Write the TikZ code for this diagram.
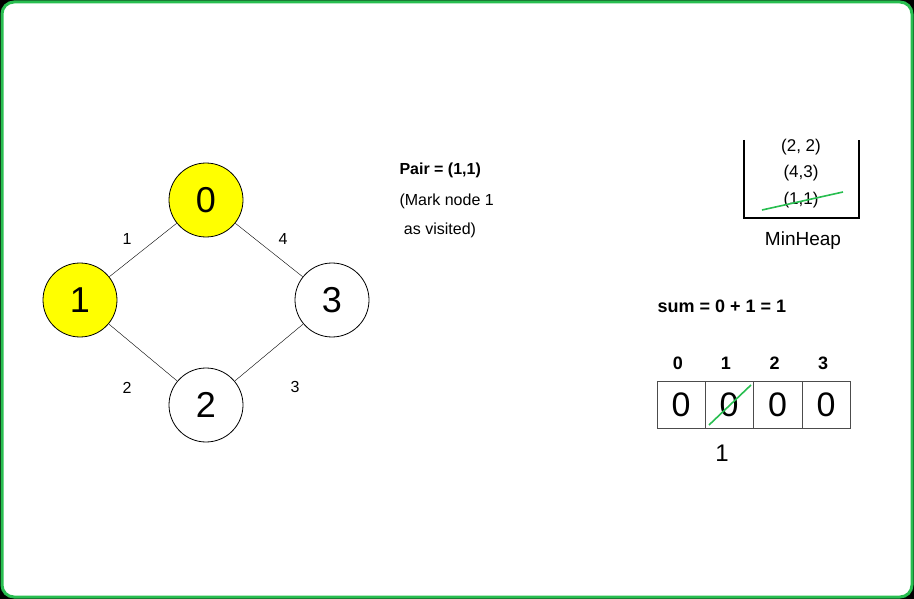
\documentclass[tikz,border=0pt]{standalone}
\usepackage{fontspec}
\setmainfont{Liberation Sans}
\begin{document}
\begin{tikzpicture}[x=1pt,y=-1pt,
  vtx/.style={circle,draw,line width=0.8pt,minimum size=74pt,inner sep=0pt,font=\fontsize{36}{40}\selectfont},
  elab/.style={font=\fontsize{16}{18}\selectfont},
  cell/.style={draw=black!70,minimum width=48.5pt,minimum height=47pt,inner sep=0pt,font=\fontsize{34}{38}\selectfont},
  strike/.style={draw={rgb,255:red,40;green,190;blue,80},line width=1.6pt}]
\definecolor{gborder}{RGB}{40,190,80}
\definecolor{vyel}{RGB}{255,255,0}
\useasboundingbox (0,0) rectangle (914,599);
\fill[black] (0,0) rectangle (914,599);
\draw[gborder,line width=3pt,fill=white,rounded corners=12pt] (2,2) rectangle (912,597);
\node[vtx,fill=vyel] (n0) at (206,200) {0};
\node[vtx,fill=vyel] (n1) at (80,300) {1};
\node[vtx,fill=white] (n3) at (332,300) {3};
\node[vtx,fill=white] (n2) at (206,405) {2};
\draw (n0) -- (n1); \draw (n0) -- (n3); \draw (n1) -- (n2); \draw (n3) -- (n2);
\node[elab] (l1) at (127,239) {1};
\node[elab] (l4) at (283,239) {4};
\node[elab] (l2) at (127,388) {2};
\node[elab] (l3) at (295,387) {3};
\node[anchor=west,font=\fontsize{16}{18}\selectfont\bfseries] (p1) at (396,170) {Pair = (1,1)};
\node[anchor=west,font=\fontsize{16}{18}\selectfont] (p2) at (396,201) {(Mark node 1};
\node[anchor=west,font=\fontsize{16}{18}\selectfont] (p3) at (396,230) {\ as visited)};
\draw[line width=1.5pt] (744,140) -- (744,218) -- (859,218) -- (859,140);
\node[font=\fontsize{17}{19}\selectfont] (h1) at (801,147) {(2, 2)};
\node[font=\fontsize{17}{19}\selectfont] (h2) at (801,173) {(4,3)};
\node[font=\fontsize{17}{19}\selectfont] (h3) at (801,200) {(1,1)};
\draw[strike] (762,210) -- (843,192);
\node[font=\fontsize{19}{21}\selectfont] (mh) at (803,241) {MinHeap};
\node[anchor=west,font=\fontsize{18}{20}\selectfont\bfseries] (sum) at (654,306) {sum = 0 + 1 = 1};
\foreach \i/\x in {0/681,1/729,2/777.5,3/826}{
  \node[cell] (c\i) at (\x,404.5) {0};
  \node[font=\fontsize{18}{20}\selectfont\bfseries] (i\i) at (\x-3,363) {\i};
}
\draw[strike] (709,425) -- (751,385);
\node[font=\fontsize{24}{26}\selectfont] (one) at (722,453) {1};
\end{tikzpicture}
\end{document}
